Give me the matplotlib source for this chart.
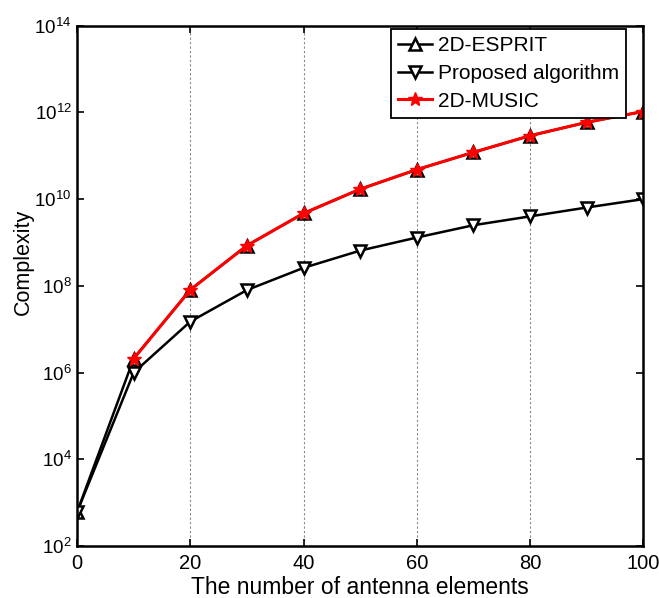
import numpy as np
import matplotlib.pyplot as plt
from matplotlib.ticker import FixedLocator, FuncFormatter, NullLocator

plt.rcParams['font.family'] = ['Liberation Sans', 'DejaVu Sans']
plt.rcParams['mathtext.fontset'] = 'custom'
plt.rcParams['mathtext.rm'] = 'Liberation Sans'

# complexity versus number of antenna elements
elements = [0, 10, 20, 30, 40, 50, 60, 70, 80, 90, 100]
esprit = [6.1e2, 2.1e6, 8.1e7, 8.5e8, 4.7e9, 1.7e10, 4.8e10, 1.2e11, 2.9e11, 5.9e11, 1.05e12]
proposed = [6.1e2, 1.0e6, 1.5e7, 8.0e7, 2.6e8, 6.5e8, 1.3e9, 2.5e9, 4.0e9, 6.4e9, 1.0e10]
music_elements = [10, 20, 30, 40, 50, 60, 70, 80, 90, 100]
music = [2.1e6, 8.1e7, 8.5e8, 4.7e9, 1.7e10, 4.8e10, 1.2e11, 2.9e11, 5.9e11, 1.05e12]

fig = plt.figure(figsize=(6.59, 5.98), dpi=100)
ax = fig.add_axes([0.117, 0.087, 0.859, 0.870])

ax.plot(elements, esprit, color='black', linewidth=1.8, marker='^',
        markersize=9, markerfacecolor='white', markeredgecolor='black',
        markeredgewidth=1.8, label='2D-ESPRIT')
ax.plot(elements, proposed, color='black', linewidth=1.8, marker='v',
        markersize=9, markerfacecolor='white', markeredgecolor='black',
        markeredgewidth=1.8, label='Proposed algorithm')
ax.plot(music_elements, music, color='red', linewidth=2.2, marker='*',
        markersize=10, markerfacecolor='red', markeredgecolor='red',
        label='2D-MUSIC')

ax.set_yscale('log')
ax.set_xlim(0, 100)
ax.set_ylim(1e2, 1e14)
ax.set_xticks([0, 20, 40, 60, 80, 100])
ax.yaxis.set_major_locator(FixedLocator([10.0 ** k for k in range(2, 15, 2)]))
ax.yaxis.set_minor_locator(NullLocator())
ax.yaxis.set_major_formatter(
    FuncFormatter(lambda v, pos: r'$\mathregular{10^{%d}}$' % round(np.log10(v))))

ax.tick_params(direction='in', length=5, width=1.2, top=True, right=True)
ax.tick_params(axis='x', labelsize=14.5, pad=6)
ax.tick_params(axis='y', labelsize=13.5, pad=4)
for sp in ax.spines.values():
    sp.set_linewidth(1.8)

ax.xaxis.grid(True, linestyle=(0, (2, 2)), color='#888888', linewidth=0.8)
ax.set_axisbelow(True)

ax.set_xlabel('The number of antenna elements', fontsize=16.5, labelpad=2)
ax.set_ylabel('Complexity', fontsize=15.5, labelpad=0)
ax.yaxis.label.set_y(0.546)

leg = ax.legend(loc='upper right', bbox_to_anchor=(0.970, 0.994),
                borderaxespad=0, fontsize=15, handlelength=1.6,
                handletextpad=0.3, labelspacing=0.42, borderpad=0.35,
                fancybox=False, framealpha=1, edgecolor='black')
leg.get_frame().set_linewidth(1.3)

fig.savefig('out.png', dpi=100)
